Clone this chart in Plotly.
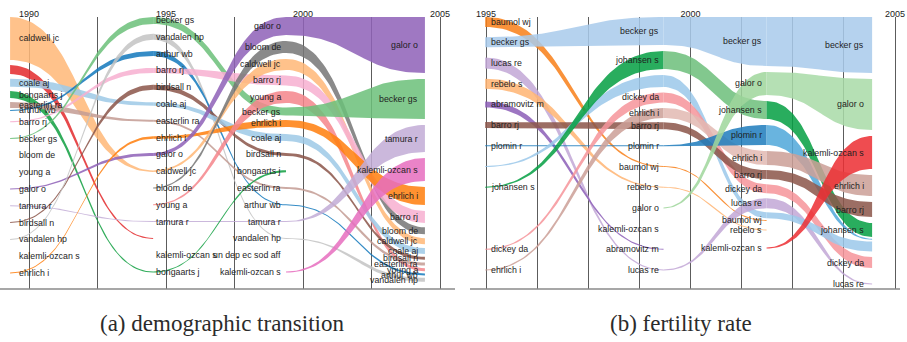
import numpy as np
import plotly.graph_objects as go

# ------------------------------------------------------------------
# DATA
# ------------------------------------------------------------------
U = "unlabelled"  # band whose name is not printed in the reference

# (a) demographic transition -- four time windows, authors ranked top->bottom
a_col_years = [1989.31, 1994.53, 1999.38, 2004.45]
a_tick_years = [1990, 1992.5, 1995, 1997.5, 2000, 2002.5, 2005]
a_tick_text = ["1990", "", "1995", "", "2000", "", "2005"]

a_col1_authors = ["caldwell jc", "un dep ec sod aff", "coale aj", "bongaarts j", "easterlin ra",
                  "arthur wb", "barro rj", "becker gs", "bloom de", "young a", "galor o",
                  "tamura r", "birdsall n", "vandalen hp", "kalemli-ozcan s", "ehrlich i"]
a_col1_weights = [43, 9, 8, 7, 6, 1, 1, 0.6, 0, 0, 0.8, 0.4, 0.8, 0.6, 0, 0.6]

a_col2_authors = ["becker gs", "vandalen hp", "arthur wb", "barro rj", "birdsall n", "coale aj",
                  "easterlin ra", "ehrlich i", "galor o", "caldwell jc", "bloom de", "young a",
                  "tamura r", "un dep ec sod aff", "kalemli-ozcan s", "bongaarts j"]
a_col2_weights = [7, 6, 5, 5, 5, 3.5, 2, 2.5, 3, 1.5, 1, 1, 0.5, 0.6, 0, 1]

a_col3_authors = ["galor o", "bloom de", "caldwell jc", "barro rj", "young a", "becker gs",
                  "ehrlich i", "coale aj", "birdsall n", "bongaarts j", "easterlin ra",
                  "arthur wb", "tamura r", "vandalen hp", "un dep ec sod aff", "kalemli-ozcan s"]
a_col3_weights = [18, 12, 11, 10, 12, 8, 7, 7, 3, 2, 2, 1, 1, 0.6, 0, 0.8]

a_col4_authors = ["galor o", "becker gs", "tamura r", "kalemli-ozcan s", "ehrlich i", "barro rj",
                  "bloom de", "caldwell jc", "coale aj", "birdsall n", "easterlin ra", "young a",
                  "arthur wb", "vandalen hp"]
a_col4_weights = [56, 40, 27, 23, 18, 12, 7, 6, 6, 3, 3, 3, 2, 4]

a_hidden_labels = [["un dep ec sod aff"], ["un dep ec sod aff"], [], []]

# (b) fertility rate
b_col_years = [1994.98, 1999.34, 2001.86, 2004.44]
b_tick_years = [1995, 1996.25, 1997.5, 1998.75, 2000, 2001.25, 2002.5, 2003.75, 2005]
b_tick_text = ["1995", "", "", "", "2000", "", "", "", "2005"]

b_col1_authors = ["baumol wj", "becker gs", "lucas re", "rebelo s", "abramovitz m", "barro rj",
                  "plomin r", U, "johansen s", "galor o", "kalemli-ozcan s", "dickey da", "ehrlich i"]
b_col1_weights = [10, 10, 11, 10, 6, 6, 0.5, 1, 1, 0, 0, 1, 1]

b_col2_authors = ["becker gs", "johansen s", U, "dickey da", "ehrlich i", "barro rj", "plomin r",
                  "baumol wj", "rebelo s", "galor o", "kalemli-ozcan s", "abramovitz m", "lucas re"]
b_col2_weights = [28, 18, 12, 10, 10, 7, 0.8, 0.8, 0.8, 0.8, 0, 0.8, 0.8]

b_col3_authors = ["becker gs", "galor o", "johansen s", "plomin r", "ehrlich i", "barro rj",
                  "dickey da", "lucas re", U, "baumol wj", "rebelo s", "kalemli-ozcan s"]
b_col3_weights = [49, 23, 18, 20, 14, 9, 9, 10, 6, 0.5, 0.5, 0.8]

b_col4_authors = ["becker gs", "galor o", "kalemli-ozcan s", "ehrlich i", "barro rj", "johansen s",
                  "plomin r", U, "dickey da", "lucas re"]
b_col4_weights = [56, 51, 33, 21, 15, 14, 0.5, 10, 11, 0.8]

b_hidden_labels = [[U, "galor o", "kalemli-ozcan s"], [U], [U], [U, "plomin r"]]

captions = ["(a) demographic transition", "(b) fertility rate"]

# ------------------------------------------------------------------
# STYLE
# ------------------------------------------------------------------
a_colors = {
    "caldwell jc": "#ffb878", "un dep ec sod aff": "#e32b2d", "coale aj": "#9ecae6",
    "bongaarts j": "#12a041", "easterlin ra": "#c49c94", "arthur wb": "#1479bd",
    "barro rj": "#f7b0d0", "becker gs": "#6cc07a", "bloom de": "#777777",
    "young a": "#f5868c", "galor o": "#8f62b8", "tamura r": "#c3acd6",
    "birdsall n": "#8c564b", "vandalen hp": "#c4c4c4", "kalemli-ozcan s": "#e66fbf",
    "ehrlich i": "#ff7f0e",
}
b_colors = {
    "baumol wj": "#f8801a", "becker gs": "#a9cbeb", "lucas re": "#c2a8d6",
    "rebelo s": "#ffb573", "abramovitz m": "#8d5fb8", "barro rj": "#8c564b",
    "plomin r": "#1f7dbd", U: "#9cc8ea", "johansen s": "#06a043",
    "galor o": "#9fd69c", "kalemli-ozcan s": "#ec2f33", "dickey da": "#f6959b",
    "ehrlich i": "#cc9f97",
}
b_segment_colors = {("johansen s", 1): "#6dbf7c", ("plomin r", 2): "#50a8da",
                    ("ehrlich i", 1): "#e2b9b2", ("galor o", 2): "#a9dba8"}

FONT = "Liberation Sans, Arial, sans-serif"
TOP = 17.0
Y_BOTTOM = 289.0
ALPHA = 0.86
MIN_T = 1.0


def rgba(h, a):
    h = h.lstrip("#")
    return "rgba(%d,%d,%d,%.3f)" % (int(h[0:2], 16), int(h[2:4], 16), int(h[4:6], 16), a)


def gap(w0, w1):
    return min(6.0, max(2.0, 1.5 + 0.4 * min(w0, w1)))


def column_positions(weights, top, bottom, slot):
    n = len(weights)
    # bottom-up: at least one label slot apart, or stacked bands if larger
    up = [0.0] * n
    up[-1] = bottom
    for i in range(n - 2, -1, -1):
        compact = weights[i] / 2.0 + gap(weights[i], weights[i + 1]) + weights[i + 1] / 2.0
        up[i] = up[i + 1] - max(slot, compact)
    pos = []
    for i, w in enumerate(weights):
        if i == 0:
            td = top + w / 2.0
        else:
            td = pos[-1] + weights[i - 1] / 2.0 + gap(weights[i - 1], w) + w / 2.0
        pos.append(max(td, up[i]))
    return pos


def bezier(x0, y0, x1, y1, n=60):
    t = np.linspace(0, 1, n)
    xm = (x0 + x1) / 2.0
    x = (1 - t) ** 3 * x0 + 3 * (1 - t) ** 2 * t * xm + 3 * (1 - t) * t ** 2 * xm + t ** 3 * x1
    y = (1 - t) ** 3 * y0 + 3 * (1 - t) ** 2 * t * y0 + 3 * (1 - t) * t ** 2 * y1 + t ** 3 * y1
    return x, y


def add_panel(fig, years, authors, weights, hidden, colors, seg_colors, bottoms, slots,
              anchors, shifts, xref, yref):
    pos = [dict(zip(a, column_positions(w, TOP, b, s)))
           for a, w, b, s in zip(authors, weights, bottoms, slots)]
    wmap = [dict(zip(a, w)) for a, w in zip(authors, weights)]
    for k in range(len(years) - 1):
        for name in authors[k]:
            if name not in wmap[k + 1]:
                continue
            wa, wb = wmap[k][name], wmap[k + 1][name]
            if wa <= 0 or wb <= 0:
                continue
            ta, tb = max(wa, MIN_T), max(wb, MIN_T)
            ya, yb = pos[k][name], pos[k + 1][name]
            xt, yt = bezier(years[k], ya - ta / 2, years[k + 1], yb - tb / 2)
            xb, yb_ = bezier(years[k], ya + ta / 2, years[k + 1], yb + tb / 2)
            xs = np.concatenate([xt, xb[::-1]])
            ys = np.concatenate([yt, yb_[::-1]])
            col = seg_colors.get((name, k), colors[name])
            fig.add_trace(go.Scatter(x=xs, y=ys, mode="lines", fill="toself",
                                     fillcolor=rgba(col, ALPHA), line=dict(width=0),
                                     hoverinfo="skip", showlegend=False,
                                     xaxis=xref, yaxis=yref))
    for k in range(len(years)):
        for name in authors[k]:
            if name in hidden[k]:
                continue
            fig.add_annotation(x=years[k], y=pos[k][name], text=name,
                               xref=xref, yref=yref, xanchor=anchors[k], yanchor="middle",
                               xshift=shifts[k], showarrow=False,
                               font=dict(family=FONT, size=8.8, color="#1e1e1e"))


fig = go.Figure()

add_panel(fig, a_col_years,
          [a_col1_authors, a_col2_authors, a_col3_authors, a_col4_authors],
          [a_col1_weights, a_col2_weights, a_col3_weights, a_col4_weights],
          a_hidden_labels, a_colors, {},
          bottoms=[273, 272, 272, 272], slots=[16.8, 16.8, 16.8, 3],
          anchors=["left", "left", "right", "right"], shifts=[7, 1, -3, -5],
          xref="x", yref="y")

add_panel(fig, b_col_years,
          [b_col1_authors, b_col2_authors, b_col3_authors, b_col4_authors],
          [b_col1_weights, b_col2_weights, b_col3_weights, b_col4_weights],
          b_hidden_labels, b_colors, b_segment_colors,
          bottoms=[270, 270, 248, 284], slots=[20.7, 20.7, 18, 22],
          anchors=["left", "right", "right", "right"], shifts=[4, -3, -3, -6],
          xref="x2", yref="y2")

W, H = 907, 342
ydom = [1 - Y_BOTTOM / H, 1 - TOP / H]

axis_common = dict(side="top", showgrid=True, gridcolor="#5c5c5c", gridwidth=1,
                   zeroline=False, showline=False, ticks="", ticklabelstandoff=-3,
                   tickfont=dict(family=FONT, size=9, color="#222"), automargin=False,
                   fixedrange=True)
a_px = 411 / 15.0
b_px = 409 / 10.0
fig.update_layout(
    width=W, height=H, margin=dict(l=0, r=0, t=0, b=0),
    paper_bgcolor="white", plot_bgcolor="white",
    xaxis=dict(domain=[0, 455 / W], range=[1990 - 29 / a_px, 1990 + 426 / a_px],
               tickvals=a_tick_years, ticktext=a_tick_text, anchor="y", **axis_common),
    yaxis=dict(domain=ydom, range=[Y_BOTTOM, TOP], visible=False, anchor="x", fixedrange=True),
    xaxis2=dict(domain=[470 / W, 1], range=[1995 - 16 / b_px, 1995 + 421 / b_px],
                tickvals=b_tick_years, ticktext=b_tick_text, anchor="y2", **axis_common),
    yaxis2=dict(domain=ydom, range=[Y_BOTTOM, TOP], visible=False, anchor="x2", fixedrange=True),
)

# bottom base lines
fig.add_shape(type="line", xref="paper", yref="paper", x0=0, x1=455 / W,
              y0=1 - Y_BOTTOM / H, y1=1 - Y_BOTTOM / H, line=dict(color="#8a8a8a", width=1.6))
fig.add_shape(type="line", xref="paper", yref="paper", x0=470 / W, x1=900 / W,
              y0=1 - Y_BOTTOM / H, y1=1 - Y_BOTTOM / H, line=dict(color="#8a8a8a", width=1.6))

# captions
for txt, cx in zip(captions, [222, 681]):
    fig.add_annotation(x=cx / W, y=1 - 323 / H, xref="paper", yref="paper", text=txt,
                       showarrow=False, xanchor="center", yanchor="middle",
                       font=dict(family="Liberation Serif, Times New Roman, serif", size=23,
                                 color="#2b2b2b"))

fig.write_html("out.html")
